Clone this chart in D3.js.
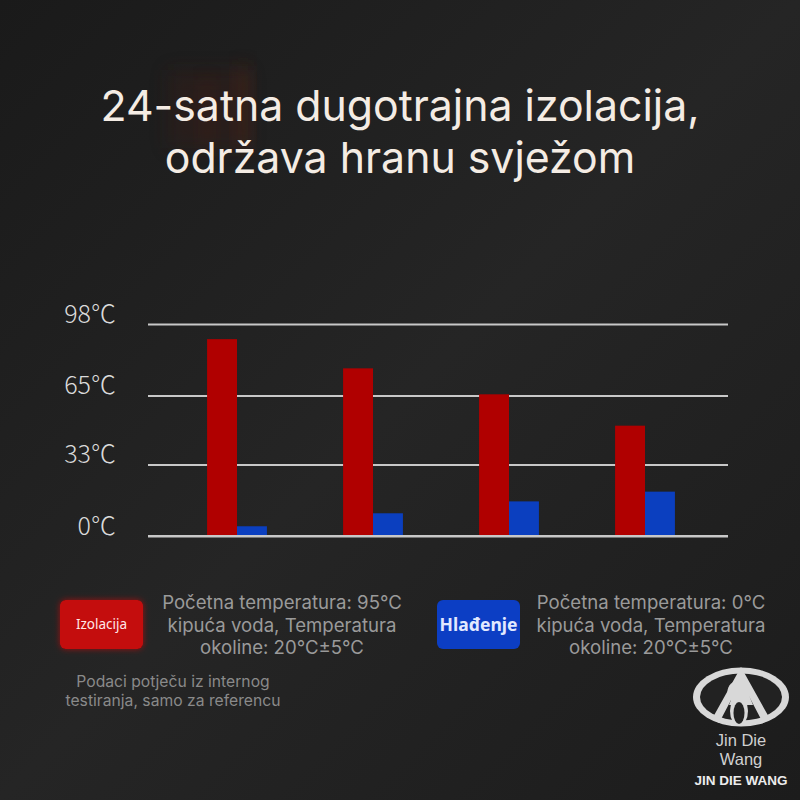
<!DOCTYPE html>
<html><head><meta charset="utf-8">
<script src="https://cdn.jsdelivr.net/npm/d3@7"></script>
<style>html,body{margin:0;padding:0;background:#1f1f1f}svg{display:block}</style>
</head><body>
<script>
// ---- data ----
const categories = ["T1", "T2", "T3", "T4"];           // measurement points (not labelled in the chart)
const seriesNames = ["Izolacija", "Hlađenje"];
const insulationValues = [91, 77.5, 65.5, 51];          // red bars, °C
const coolingValues = [4.5, 10.5, 16, 20.5];            // blue bars, °C
const tickValues = [0, 33, 65, 98];
const tickLabels = ["0℃", "33℃", "65℃", "98℃"];
const titleLines = ["24-satna dugotrajna izolacija,", "održava hranu svježom"];
const legendNotes = [
  ["Početna temperatura: 95°C", "kipuća voda, Temperatura", "okoline: 20°C±5°C"],
  ["Početna temperatura: 0°C", "kipuća voda, Temperatura", "okoline: 20°C±5°C"]
];
const footnote = ["Podaci potječu iz internog", "testiranja, samo za referencu"];
const brand = ["Jin Die", "Wang", "JIN DIE WANG"];

const W = 800, H = 800;
const FONT = "'Noto Sans','Open Sans',sans-serif";
const TFONT = "Inter,'Noto Sans',sans-serif";
const TICKFONT = "'Noto Sans CJK SC','Noto Sans',sans-serif";
const BRANDFONT = "'Liberation Sans',Arial,sans-serif";
const svg = d3.select("body").append("svg").attr("width", W).attr("height", H);
const defs = svg.append("defs");

// background
const bg = defs.append("linearGradient").attr("id", "bg").attr("x1", "0").attr("y1", "0").attr("x2", "1").attr("y2", "1");
bg.append("stop").attr("offset", "0").attr("stop-color", "#1a1a1a");
bg.append("stop").attr("offset", "0.5").attr("stop-color", "#252525");
bg.append("stop").attr("offset", "1").attr("stop-color", "#1c1c1c");
svg.append("rect").attr("width", W).attr("height", H).attr("fill", "url(#bg)");

const blur = defs.append("filter").attr("id", "blur").attr("x", "-50%").attr("y", "-50%").attr("width", "200%").attr("height", "200%");
blur.append("feGaussianBlur").attr("stdDeviation", 9);
svg.append("rect").attr("x", 168).attr("y", 70).attr("width", 80).attr("height", 78)
  .attr("fill", "#3a1c16").attr("opacity", 0.35).attr("filter", "url(#blur)");
svg.append("rect").attr("x", 236).attr("y", 66).attr("width", 14).attr("height", 84)
  .attr("fill", "#5a2619").attr("opacity", 0.4).attr("filter", "url(#blur)");
svg.append("rect").attr("x", 200).attr("y", 80).attr("width", 14).attr("height", 70)
  .attr("fill", "#4a2016").attr("opacity", 0.3).attr("filter", "url(#blur)");

function lines(parent, data, x, y0, lh, attrs) {
  const t = parent.append("g").selectAll("text").data(data).join("text")
    .attr("x", x).attr("y", (d, i) => y0 + i * lh).attr("text-anchor", "middle").text(d => d);
  Object.entries(attrs).forEach(([k, v]) => t.attr(k, v));
  return t;
}

// title
lines(svg, titleLines, 400, 121, 52, { fill: "#f4ece4", "font-family": TFONT, "font-size": 42.8 });

// scales
const y = d3.scaleLinear().domain([0, 98]).range([536, 324]);
const x = d3.scaleBand().domain(categories).range([169, 713]).paddingInner(0.56).paddingOuter(0.28);
const xs = d3.scaleBand().domain(seriesNames).range([0, x.bandwidth()]);
const color = d3.scaleOrdinal().domain(seriesNames).range(["#b00000", "#0b3fbf"]);

// gridlines via axis
const axis = d3.axisLeft(y).tickValues(tickValues).tickSize(-580)
  .tickFormat((d, i) => tickLabels[i]).tickPadding(32);
const ag = svg.append("g").attr("transform", "translate(148,0)").call(axis);
ag.select(".domain").remove();
ag.selectAll(".tick line").attr("stroke", "#c8c8c8").attr("stroke-width", 2);
ag.selectAll(".tick text").attr("fill", "#dadada").attr("font-family", TICKFONT)
  .attr("font-weight", 300).attr("font-size", 25).attr("dy", "-0.08em");

// bars
const rows = categories.map((c, i) => ({ c, vals: [insulationValues[i], coolingValues[i]] }));
svg.append("g").selectAll("g").data(rows).join("g")
  .attr("transform", d => `translate(${x(d.c)},0)`)
  .selectAll("rect").data(d => d.vals.map((v, j) => ({ s: seriesNames[j], v })))
  .join("rect")
  .attr("x", d => xs(d.s)).attr("width", xs.bandwidth())
  .attr("y", d => y(d.v)).attr("height", d => y(0) - y(d.v))
  .attr("fill", d => color(d.s));

// redraw baseline over bars
svg.append("line").attr("x1", 148).attr("x2", 728).attr("y1", y(0)).attr("y2", y(0))
  .attr("stroke", "#c8c8c8").attr("stroke-width", 2);

// legend
const glowR = defs.append("filter").attr("id", "glowR").attr("x", "-30%").attr("y", "-30%").attr("width", "160%").attr("height", "160%");
glowR.append("feDropShadow").attr("dx", 0).attr("dy", 0).attr("stdDeviation", 3).attr("flood-color", "#ff1010").attr("flood-opacity", 0.55);

const legend = [
  { name: seriesNames[0], bx: 60, tx: 282, notes: legendNotes[0], size: 13.5, weight: 400, tc: "#ffe8e8" },
  { name: seriesNames[1], bx: 437, tx: 651, notes: legendNotes[1], size: 17.5, weight: 700, tc: "#e2e9ff" }
];
const lg = svg.append("g").selectAll("g").data(legend).join("g");
lg.append("rect").attr("x", d => d.bx).attr("y", 600).attr("width", 83).attr("height", 49).attr("rx", 6)
  .attr("fill", d => d.name === seriesNames[0] ? "#c40a0a" : "#0c3ec4")
  .attr("filter", d => d.name === seriesNames[0] ? "url(#glowR)" : null);
lg.append("text").attr("x", d => d.bx + 41.5).attr("y", 624.5).attr("dy", "0.35em").attr("text-anchor", "middle")
  .attr("fill", d => d.tc).attr("font-family", FONT).attr("font-size", d => d.size).attr("font-weight", d => d.weight)
  .text(d => d.name);
lg.each(function (d) {
  lines(d3.select(this), d.notes, d.tx, 609, 22.5, { fill: "#9a9a9a", "font-family": TFONT, "font-size": 18.6 });
});

// footnote
lines(svg, footnote, 173, 687, 19, { fill: "#8a8a8a", "font-family": TFONT, "font-size": 15.7 });

// logo
const logo = svg.append("g").attr("transform", "translate(741,697)");
logo.append("ellipse").attr("rx", 48).attr("ry", 29.5).attr("fill", "#d8d8d8");
logo.append("ellipse").attr("rx", 41).attr("ry", 23.5).attr("fill", "#222");
logo.append("path").attr("d", "M0,-30 L-29,22 L-22,26 L0,-16 L22,26 L29,22 Z").attr("fill", "#d8d8d8");
logo.append("path").attr("d", "M0,-22 L-12,8 L12,8 Z").attr("fill", "#d8d8d8");
logo.append("circle").attr("cx", -2).attr("cy", -5).attr("r", 11.5).attr("fill", "#d8d8d8");
logo.append("ellipse").attr("cx", -2).attr("cy", 14).attr("rx", 9).attr("ry", 15).attr("fill", "#d8d8d8");
logo.append("ellipse").attr("cx", -2).attr("cy", 16).attr("rx", 5.5).attr("ry", 11).attr("fill", "#222");
lines(svg, brand.slice(0, 2), 741, 746, 19, { fill: "#d0d0d0", "font-family": BRANDFONT, "font-size": 16.5 });
svg.append("text").attr("x", 741).attr("y", 785).attr("text-anchor", "middle").attr("fill", "#ececec")
  .attr("font-family", BRANDFONT).attr("font-size", 13.5).attr("font-weight", 700).text(brand[2]);
</script>
</body></html>
